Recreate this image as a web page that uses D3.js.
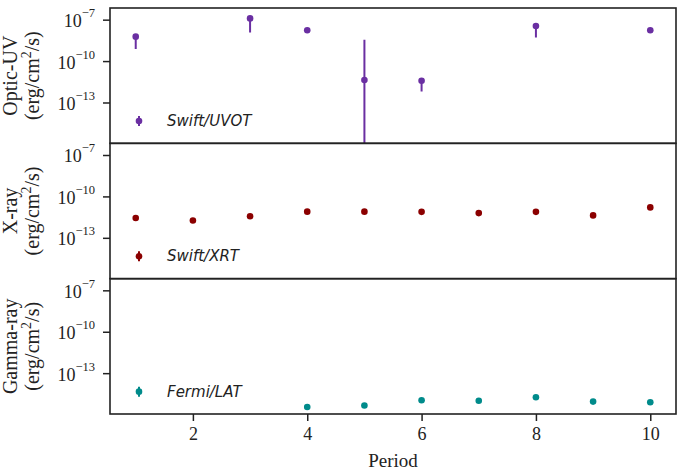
<!DOCTYPE html>
<html>
<head>
<meta charset="utf-8">
<script src="https://cdn.jsdelivr.net/npm/d3@7"></script>
<style>
  body { margin: 0; background: #fff; }
</style>
</head>
<body>
<script>
// periods (x) and fluxes in erg/cm2/s, errors as lower / upper bounds
var uvotPeriod = [1, 3, 4, 5, 6, 8, 10];
var uvotFlux   = [5.9e-9, 1.23e-7, 1.7e-8, 4.3e-12, 3.8e-12, 3.5e-8, 1.7e-8];
var uvotLow    = [7.6e-10, 1.2e-8, 1.7e-8, 1e-20, 6.3e-13, 5.2e-9, 1.7e-8];
var uvotHigh   = [7.0e-9, 1.4e-7, 1.7e-8, 3.5e-9, 4.2e-12, 3.9e-8, 1.7e-8];

var xrtPeriod = [1, 2, 3, 4, 5, 6, 7, 8, 9, 10];
var xrtFlux   = [2.7e-12, 1.8e-12, 3.7e-12, 7.9e-12, 7.9e-12, 7.6e-12, 6.2e-12, 7.6e-12, 4.2e-12, 1.6e-11];

var latPeriod = [4, 5, 6, 7, 8, 9, 10];
var latFlux   = [3.5e-16, 4.5e-16, 1.1e-15, 1.0e-15, 1.8e-15, 8.7e-16, 7.9e-16];

var yTicks = [1e-7, 1e-10, 1e-13];
var yExp   = ["\u22127", "\u221210", "\u221213"];
var xTicks = [2, 4, 6, 8, 10];

var panels = [
  {name: "Optic-UV", legend: "Swift/UVOT", color: "#6a2fa2", period: uvotPeriod, flux: uvotFlux, low: uvotLow, high: uvotHigh},
  {name: "X-ray", legend: "Swift/XRT", color: "#8b0000", period: xrtPeriod, flux: xrtFlux},
  {name: "Gamma-ray", legend: "Fermi/LAT", color: "#008b8b", period: latPeriod, flux: latFlux}
];

var serif = "'Liberation Serif', 'Times New Roman', serif";
var width = 685, height = 474;
var margin = {top: 8, left: 110, right: 9, bottom: 60};
var plotW = width - margin.left - margin.right;
var panelH = (height - margin.top - margin.bottom) / 3;

const svg = d3.select("body").append("svg")
    .attr("width", width)
    .attr("height", height);

var x = d3.scaleLinear().domain([0.55, 10.45]).range([0, plotW]);

svg.append("defs").selectAll("clipPath")
    .data(panels).enter()
    .append("clipPath").attr("id", function(d, i) { return "clip" + i; })
    .append("rect").attr("width", plotW).attr("height", panelH);

panels.forEach(function(p, i) {
    var g = svg.append("g")
        .attr("transform", "translate(" + margin.left + "," + (margin.top + i * panelH) + ")");

    var y = d3.scaleLog().domain([1.1e-16, 7e-7]).range([panelH, 0]);

    // y axis
    var ya = g.append("g")
        .call(d3.axisLeft(y).tickValues(yTicks).tickSize(7).tickFormat(""));
    ya.select(".domain").remove();
    ya.selectAll(".tick line").attr("stroke", "#222").attr("stroke-width", 1.5);
    ya.selectAll(".tick").each(function(d, k) {
        var t = d3.select(this).append("text")
            .attr("x", -15).attr("y", 7)
            .attr("text-anchor", "end")
            .attr("fill", "#222")
            .style("font-family", serif)
            .style("font-size", "18px");
        t.append("tspan").text("10");
        t.append("tspan").attr("dy", -10).style("font-size", "12.5px").text(yExp[k]);
    });

    // axis titles
    var lab = g.append("text")
        .attr("transform", "translate(0," + (panelH / 2) + ") rotate(-90)")
        .attr("text-anchor", "middle")
        .style("font-family", serif)
        .style("font-size", "20px")
        .attr("fill", "#222");
    lab.append("tspan").attr("x", 0).attr("y", -93).text(p.name);
    var l2 = lab.append("tspan").attr("x", 0).attr("y", -71);
    l2.append("tspan").text("(erg/cm");
    l2.append("tspan").attr("dy", -8).style("font-size", "14px").text("2");
    l2.append("tspan").attr("dy", 8).text("/s)");

    var data = p.period.map(function(d, k) {
        return {x: d, y: p.flux[k], lo: p.low ? p.low[k] : null, hi: p.high ? p.high[k] : null};
    });

    var marks = g.append("g").attr("clip-path", "url(#clip" + i + ")");

    marks.selectAll("line.err")
        .data(data.filter(function(d) { return d.lo !== null && d.lo !== d.hi; }))
        .enter().append("line")
        .attr("class", "err")
        .attr("x1", function(d) { return x(d.x); })
        .attr("x2", function(d) { return x(d.x); })
        .attr("y1", function(d) { return y(d.hi); })
        .attr("y2", function(d) { return Math.min(y(d.lo), panelH + 5); })
        .attr("stroke", p.color)
        .attr("stroke-width", 2);

    marks.selectAll("circle")
        .data(data).enter()
        .append("circle")
        .attr("cx", function(d) { return x(d.x); })
        .attr("cy", function(d) { return y(d.y); })
        .attr("r", 3.3)
        .attr("fill", p.color);

    // legend
    var lg = g.append("g").attr("transform", "translate(29,113)");
    lg.append("line").attr("y1", -5).attr("y2", 5)
        .attr("stroke", p.color).attr("stroke-width", 2);
    lg.append("circle").attr("r", 3.3).attr("fill", p.color);
    lg.append("text")
        .attr("x", 28).attr("y", 5)
        .style("font-family", "DejaVu Sans, sans-serif")
        .style("font-style", "italic")
        .style("font-size", "15px")
        .attr("fill", "#222")
        .text(p.legend);

    // frame
    g.append("rect")
        .attr("width", plotW).attr("height", panelH)
        .attr("fill", "none")
        .attr("stroke", "#222")
        .attr("stroke-width", 1.6);

    if (i === panels.length - 1) {
        var xa = g.append("g")
            .attr("transform", "translate(0," + panelH + ")")
            .call(d3.axisBottom(x).tickValues(xTicks).tickSize(7).tickPadding(6));
        xa.select(".domain").remove();
        xa.selectAll(".tick line").attr("stroke", "#222").attr("stroke-width", 1.5);
        xa.selectAll(".tick text")
            .style("font-family", serif)
            .style("font-size", "18px")
            .attr("fill", "#222");

        g.append("text")
            .attr("x", plotW / 2)
            .attr("y", panelH + 53)
            .attr("text-anchor", "middle")
            .style("font-family", serif)
            .style("font-size", "19px")
            .attr("fill", "#222")
            .text("Period");
    }
});
</script>
</body>
</html>
